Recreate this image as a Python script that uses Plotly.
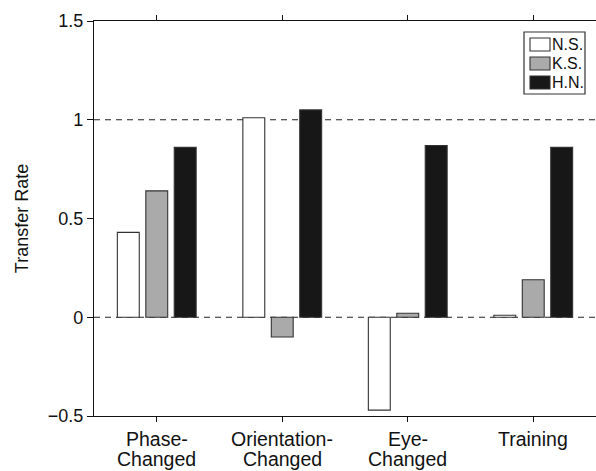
import plotly.graph_objects as go

categories = ["Phase-<br>Changed", "Orientation-<br>Changed", "Eye-<br>Changed", "Training"]
series_names = ["N.S.", "K.S.", "H.N."]
ns_values = [0.43, 1.01, -0.47, 0.01]
ks_values = [0.64, -0.10, 0.02, 0.19]
hn_values = [0.86, 1.05, 0.87, 0.86]
colors = ["#ffffff", "#aaaaaa", "#171717"]
ytick_vals = [-0.5, 0, 0.5, 1, 1.5]
ytick_text = ["\u22120.5", "0", "0.5", "1", "1.5"]

font_family = "Liberation Sans, Arial, sans-serif"
W, H = 596, 471
ML, MR, MT, MB = 94, 0, 21, 55
PW, PH = W - ML - MR, H - MT - MB


def px(x):
    return (x - ML) / PW


def py(y):
    return (H - MB - y) / PH


fig = go.Figure()
for name, vals, col in zip(series_names, [ns_values, ks_values, hn_values], colors):
    fig.add_trace(go.Bar(
        x=list(range(len(categories))), y=vals, name=name, showlegend=False,
        marker=dict(color=col, line=dict(color="#333333", width=1.1)),
    ))

for yv in [0, 1]:
    fig.add_shape(type="line", xref="paper", yref="y", x0=0, x1=1, y0=yv, y1=yv,
                  line=dict(color="#222222", width=1, dash="6px,5px"), layer="below")

# category labels, placed line by line for tight line spacing
for i, cat in enumerate(categories):
    for j, line in enumerate(cat.split("<br>")):
        fig.add_annotation(xref="x", yref="paper", x=i, y=py(439 + 20 * j),
                           text=line, showarrow=False, xanchor="center", yanchor="middle",
                           borderpad=0,
                           font=dict(size=19.5, family=font_family, color="#111111"))

# manual legend (wide swatches like the original)
fig.add_shape(type="rect", xref="paper", yref="paper",
              x0=px(524), x1=px(585), y0=py(94), y1=py(32),
              line=dict(color="#333333", width=1.2), fillcolor="white")
for i, (name, col) in enumerate(zip(series_names, colors)):
    top = 38 + i * 19
    fig.add_shape(type="rect", xref="paper", yref="paper",
                  x0=px(530), x1=px(550), y0=py(top + 13), y1=py(top),
                  line=dict(color="#333333", width=1.1), fillcolor=col)
    fig.add_annotation(xref="paper", yref="paper", x=px(550), y=py(top + 6.5),
                       text=name, showarrow=False, xanchor="left", yanchor="middle",
                       xshift=0,
                       font=dict(size=16, family=font_family, color="#111111"))

fig.update_layout(
    width=W, height=H,
    margin=dict(l=ML, r=MR, t=MT, b=MB),
    paper_bgcolor="white", plot_bgcolor="white",
    barmode="group", bargap=0.32, bargroupgap=0.23,
    font=dict(family=font_family, size=18, color="#111111"),
    showlegend=False,
    xaxis=dict(
        range=[-0.5, 3.5], tickvals=list(range(len(categories))), ticktext=[""] * len(categories),
        showline=True, linecolor="#111111", linewidth=1.2, mirror="ticks",
        ticks="outside", ticklen=5, tickcolor="#111111", showgrid=False, zeroline=False,
        automargin=False,
    ),
    yaxis=dict(
        range=[-0.5, 1.5], tickvals=ytick_vals, ticktext=ytick_text,
        showline=True, linecolor="#111111", linewidth=1.2, mirror=False,
        ticks="outside", ticklen=6, tickcolor="#111111", showgrid=False, zeroline=False,
        title=dict(text="Transfer Rate", font=dict(size=18), standoff=14),
        tickfont=dict(size=18), automargin=False,
    ),
)

fig.write_html("out.html")
